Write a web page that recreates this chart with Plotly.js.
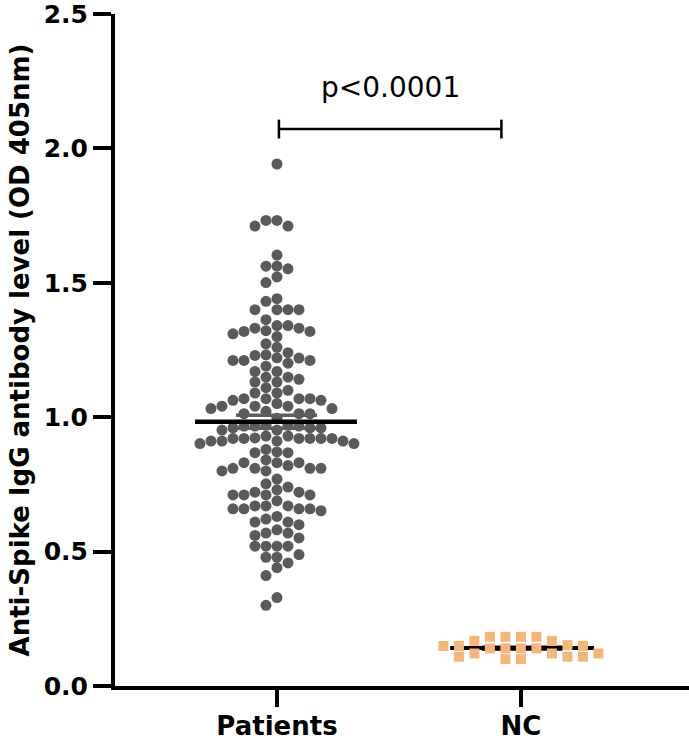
<!DOCTYPE html>
<html>
<head>
<meta charset="utf-8">
<script src="https://cdn.plot.ly/plotly-3.0.1.min.js"></script>
<style>html,body{margin:0;padding:0;background:#fff;}#chart{width:689px;height:741px;}</style>
</head>
<body>
<div id="chart"></div>
<script>
// ---- data ----
const categories = ["Patients", "NC"];
const patients = [
  1.942,
  1.732, 1.732, 1.711, 1.711,
  1.603, 1.562, 1.552, 1.562, 1.522, 1.501,
  1.441, 1.431, 1.400, 1.400, 1.400, 1.400, 1.363,
  1.341, 1.331, 1.319, 1.310, 1.341, 1.300, 1.322, 1.319, 1.331,
  1.260, 1.273,
  1.232, 1.211, 1.211, 1.221, 1.211, 1.240, 1.201, 1.230, 1.190, 1.220,
  1.170, 1.170, 1.149, 1.131, 1.131, 1.141, 1.149,
  1.100, 1.110, 1.090, 1.090,
  1.069, 1.069, 1.063, 1.063, 1.051, 1.069, 1.069,
  1.041, 1.041, 1.032, 1.013, 1.022, 1.013, 1.032, 1.013, 1.041,
  0.996,
  0.960, 0.970, 0.967, 0.967, 0.967, 0.952, 0.970, 0.952, 0.960, 0.960,
  0.930, 0.930, 0.911, 0.911, 0.923, 0.902, 0.921, 0.921, 0.921, 0.921, 0.902, 0.911, 0.911, 0.921, 0.921,
  0.880, 0.868, 0.868, 0.871,
  0.831, 0.810, 0.810, 0.810, 0.841, 0.800, 0.800, 0.831, 0.831, 0.810, 0.820,
  0.770, 0.752,
  0.721, 0.711, 0.711, 0.730, 0.711, 0.721, 0.711, 0.740,
  0.689, 0.659, 0.652, 0.659, 0.670, 0.659, 0.670, 0.659, 0.670,
  0.600, 0.610, 0.621, 0.610, 0.631,
  0.560, 0.569, 0.569, 0.551, 0.581,
  0.520, 0.520, 0.520, 0.520,
  0.479, 0.479, 0.489,
  0.458, 0.440, 0.411,
  0.329, 0.300
];
const nc = [
  0.183, 0.183, 0.183, 0.183,
  0.168, 0.168,
  0.152,
  0.149, 0.149, 0.149,
  0.140, 0.140, 0.140, 0.140,
  0.121, 0.121, 0.121,
  0.109, 0.109, 0.109,
  0.100, 0.100
];
// summary lines (mean, mean±SEM)
const patientsMean = 0.983, patientsSem = 0.024;
const ncMean = 0.141, ncSem = 0.004;
const pText = "p<0.0001";
const yTicks = [0, 0.5, 1.0, 1.5, 2.0, 2.5];

// ---- layout constants ----
const W = 689, H = 741;
const M = {l: 115, r: 0, t: 14, b: 55};
const xRange = [-0.664, 1.689];
const yRange = [0, 2.5];
const pxPerX = (W - M.l - M.r) / (xRange[1] - xRange[0]);
const pxPerY = (H - M.t - M.b) / (yRange[1] - yRange[0]);

// simple column beeswarm: each point goes to the nearest column where it
// keeps a minimal vertical gap to the points already there
function swarm(values, center, colPx, gapPx) {
  const order = values.map((v, i) => i).sort((a, b) => values[b] - values[a]);
  const cols = {};
  const xs = new Array(values.length);
  for (const i of order) {
    const ypx = values[i] * pxPerY;
    for (let s = 0; s < 200; s++) {
      const k = s === 0 ? 0 : (s % 2 === 1 ? -Math.ceil(s / 2) : Math.ceil(s / 2));
      const col = cols[k] || (cols[k] = []);
      if (col.every(y => Math.abs(y - ypx) >= gapPx)) {
        col.push(ypx);
        xs[i] = center + k * colPx / pxPerX;
        break;
      }
    }
  }
  return xs;
}

const dotSize = 11, sqSize = 10;
const xPatients = swarm(patients, 0, 11, 10.3);
const xNC = swarm(nc, 1, 15.5, 10);

const traces = [
  {
    type: "scatter", mode: "markers", x: xPatients, y: patients,
    marker: {symbol: "circle", size: dotSize, color: "#5a5a5a", line: {width: 0}},
    hoverinfo: "y", showlegend: false
  },
  {
    type: "scatter", mode: "markers", x: xNC, y: nc,
    marker: {symbol: "square", size: sqSize, color: "#f5b67d", line: {width: 0}},
    hoverinfo: "y", showlegend: false
  }
];

function hline(x0, x1, y, color, width, layer) {
  return {type: "line", xref: "x", yref: "y", x0: x0, x1: x1, y0: y, y1: y,
          line: {color: color, width: width}, layer: layer};
}
const bracketX0 = 0.008, bracketX1 = 0.92, bracketY = 2.072, capH = 0.035;
const shapes = [
  // NC (drawn under the squares)
  hline(1 - 0.29, 1 + 0.30, ncMean, "#000", 4, "below"),
  hline(1 - 0.16, 1 + 0.17, ncMean + ncSem, "#000", 3, "below"),
  hline(1 - 0.16, 1 + 0.17, ncMean - ncSem, "#000", 3, "below"),
  // Patients (drawn above the dots)
  hline(-0.168, 0.164, patientsMean + patientsSem, "#5e5e5e", 3.5, "above"),
  hline(-0.168, 0.164, patientsMean - patientsSem, "#5e5e5e", 3.5, "above"),
  hline(-0.336, 0.328, patientsMean, "#000", 4.5, "above"),
  // significance bracket
  hline(bracketX0, bracketX1, bracketY, "#000", 2.5, "above"),
  {type: "line", xref: "x", yref: "y", x0: bracketX0, x1: bracketX0, y0: bracketY - capH, y1: bracketY + capH, line: {color: "#000", width: 2.5}},
  {type: "line", xref: "x", yref: "y", x0: bracketX1, x1: bracketX1, y0: bracketY - capH, y1: bracketY + capH, line: {color: "#000", width: 2.5}}
];

const tickFont = {family: "DejaVu Sans", size: 25, color: "#000", weight: "bold"};
const catFont = {family: "DejaVu Sans", size: 26, color: "#000", weight: "bold"};

const layout = {
  width: W, height: H,
  margin: M,
  paper_bgcolor: "#fff", plot_bgcolor: "#fff",
  showlegend: false,
  xaxis: {
    range: xRange, tickmode: "array", tickvals: [0, 1], ticktext: categories,
    showgrid: false, zeroline: false, showline: true, linecolor: "#000", linewidth: 4,
    ticks: "outside", ticklen: 17, tickwidth: 4, tickcolor: "#000",
    tickfont: catFont, ticklabelstandoff: -3, ticklabeloverflow: "allow", fixedrange: true
  },
  yaxis: {
    range: yRange, tickmode: "array", tickvals: yTicks, ticktext: yTicks.map(v => v.toFixed(1)),
    showgrid: false, zeroline: false, showline: true, linecolor: "#000", linewidth: 4,
    ticks: "outside", ticklen: 18, tickwidth: 4, tickcolor: "#000",
    tickfont: tickFont, ticklabeloverflow: "allow", fixedrange: true,
    title: {text: "Anti-Spike IgG antibody level (OD 405nm)", font: {family: "DejaVu Sans", size: 26, color: "#000", weight: "bold"}, standoff: 8}
  },
  shapes: shapes,
  annotations: [{
    xref: "x", yref: "y", x: (bracketX0 + bracketX1) / 2, y: 2.228,
    text: pText, showarrow: false, xanchor: "center", yanchor: "middle",
    font: {family: "DejaVu Sans", size: 28, color: "#000"}
  }]
};

Plotly.newPlot("chart", traces, layout, {displayModeBar: false, staticPlot: true});
</script>
</body>
</html>
